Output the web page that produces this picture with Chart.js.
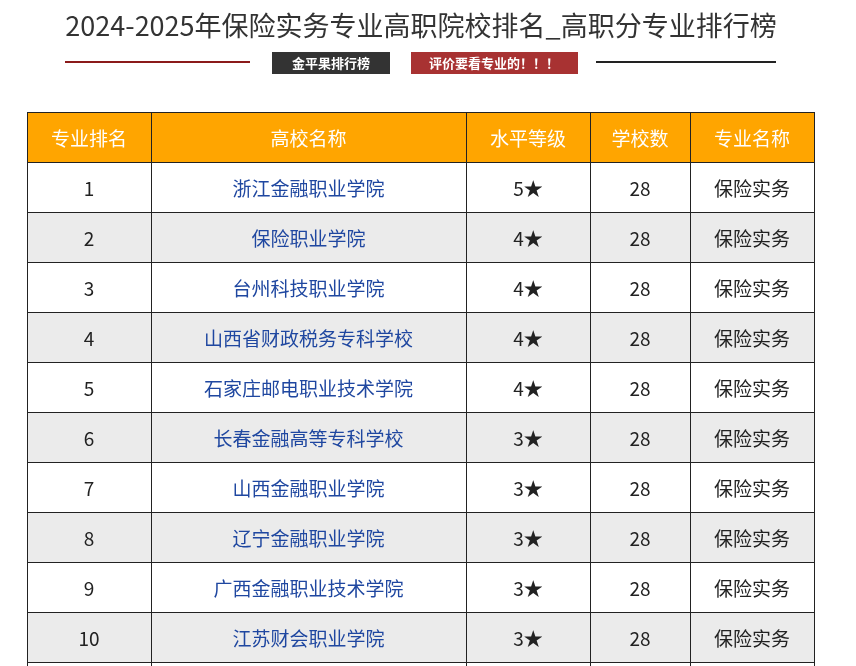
<!DOCTYPE html>
<html><head><meta charset="utf-8">
<script src="https://cdn.jsdelivr.net/npm/chart.js@4"></script>
<style>html,body{margin:0;padding:0;background:#fff}</style>
</head><body>
<canvas id="c" width="856" height="666"></canvas>
<script>
const title = "2024-2025年保险实务专业高职院校排名_高职分专业排行榜";
const badgeLeft = "金平果排行榜";
const badgeRight = "评价要看专业的！！！";
const headers = ["专业排名","高校名称","水平等级","学校数","专业名称"];
const ranks = ["1","2","3","4","5","6","7","8","9","10"];
const schools = ["浙江金融职业学院","保险职业学院","台州科技职业学院","山西省财政税务专科学校","石家庄邮电职业技术学院","长春金融高等专科学校","山西金融职业学院","辽宁金融职业学院","广西金融职业技术学院","江苏财会职业学院"];
const levels = ["5★","4★","4★","4★","4★","3★","3★","3★","3★","3★"];
const counts = ["28","28","28","28","28","28","28","28","28","28"];
const majors = ["保险实务","保险实务","保险实务","保险实务","保险实务","保险实务","保险实务","保险实务","保险实务","保险实务"];

const colW = [124,315,124,100,124];
const FONT = '"Noto Sans CJK SC","Noto Sans",sans-serif';

const tablePlugin = {
  id:'tbl',
  afterDraw(chart){
    const ctx = chart.ctx, xs = chart.scales.x, ys = chart.scales.y;
    const edges=[0]; colW.forEach(w=>edges.push(edges[edges.length-1]+w));
    const cols=[ranks,schools,levels,counts,majors];
    const nRows = ranks.length+2;
    ctx.save();
    ctx.fillStyle='#333'; ctx.font='27px '+FONT; ctx.textAlign='center'; ctx.textBaseline='middle';
    ctx.fillText(title,421,26);
    ctx.fillStyle='#8b1a1a'; ctx.fillRect(65,61,185,2);
    ctx.fillStyle='#222'; ctx.fillRect(596,61,180,2);
    ctx.fillStyle='#333'; ctx.fillRect(272,52,118,22);
    ctx.fillStyle='#a83232'; ctx.fillRect(411,52,167,22);
    ctx.fillStyle='#fff'; ctx.font='bold 13px '+FONT;
    ctx.fillText(badgeLeft,331,63); ctx.fillText(badgeRight,494,63);
    for(let r=0;r<nRows;r++){
      const y0=ys.getPixelForValue(r), y1=ys.getPixelForValue(r+1);
      const yb=Math.min(y1,chart.height+2);
      let bg = r===0?'#FFA500':(r%2===0?'#ebebeb':'#fff');
      ctx.fillStyle=bg;
      ctx.fillRect(xs.getPixelForValue(0),y0,xs.getPixelForValue(edges[5])-xs.getPixelForValue(0),yb-y0);
      for(let c=0;c<5;c++){
        const x0=xs.getPixelForValue(edges[c]), x1=xs.getPixelForValue(edges[c+1]);
        ctx.strokeStyle='#222'; ctx.lineWidth=1;
        ctx.strokeRect(Math.round(x0)+0.5,Math.round(y0)+0.5,x1-x0,y1-y0);
        let txt = r===0?headers[c]:(cols[c][r-1]||'');
        if(!txt) continue;
        ctx.fillStyle = r===0?'#fff':(c===1?'#1f47a0':'#222');
        ctx.font='19px '+FONT;
        ctx.fillText(txt,(x0+x1)/2,(y0+y1)/2+2);
      }
    }
    ctx.restore();
  }
};

new Chart(document.getElementById('c'),{
  type:'scatter',
  data:{datasets:[{data:[]}]},
  options:{
    responsive:false, animation:false,
    layout:{padding:{left:27,right:42,top:112,bottom:0}},
    plugins:{legend:{display:false},tooltip:{enabled:false}},
    scales:{
      x:{display:false,min:0,max:787},
      y:{display:false,min:0,max:11.08,reverse:true}
    }
  },
  plugins:[tablePlugin]
});
</script>
</body></html>
